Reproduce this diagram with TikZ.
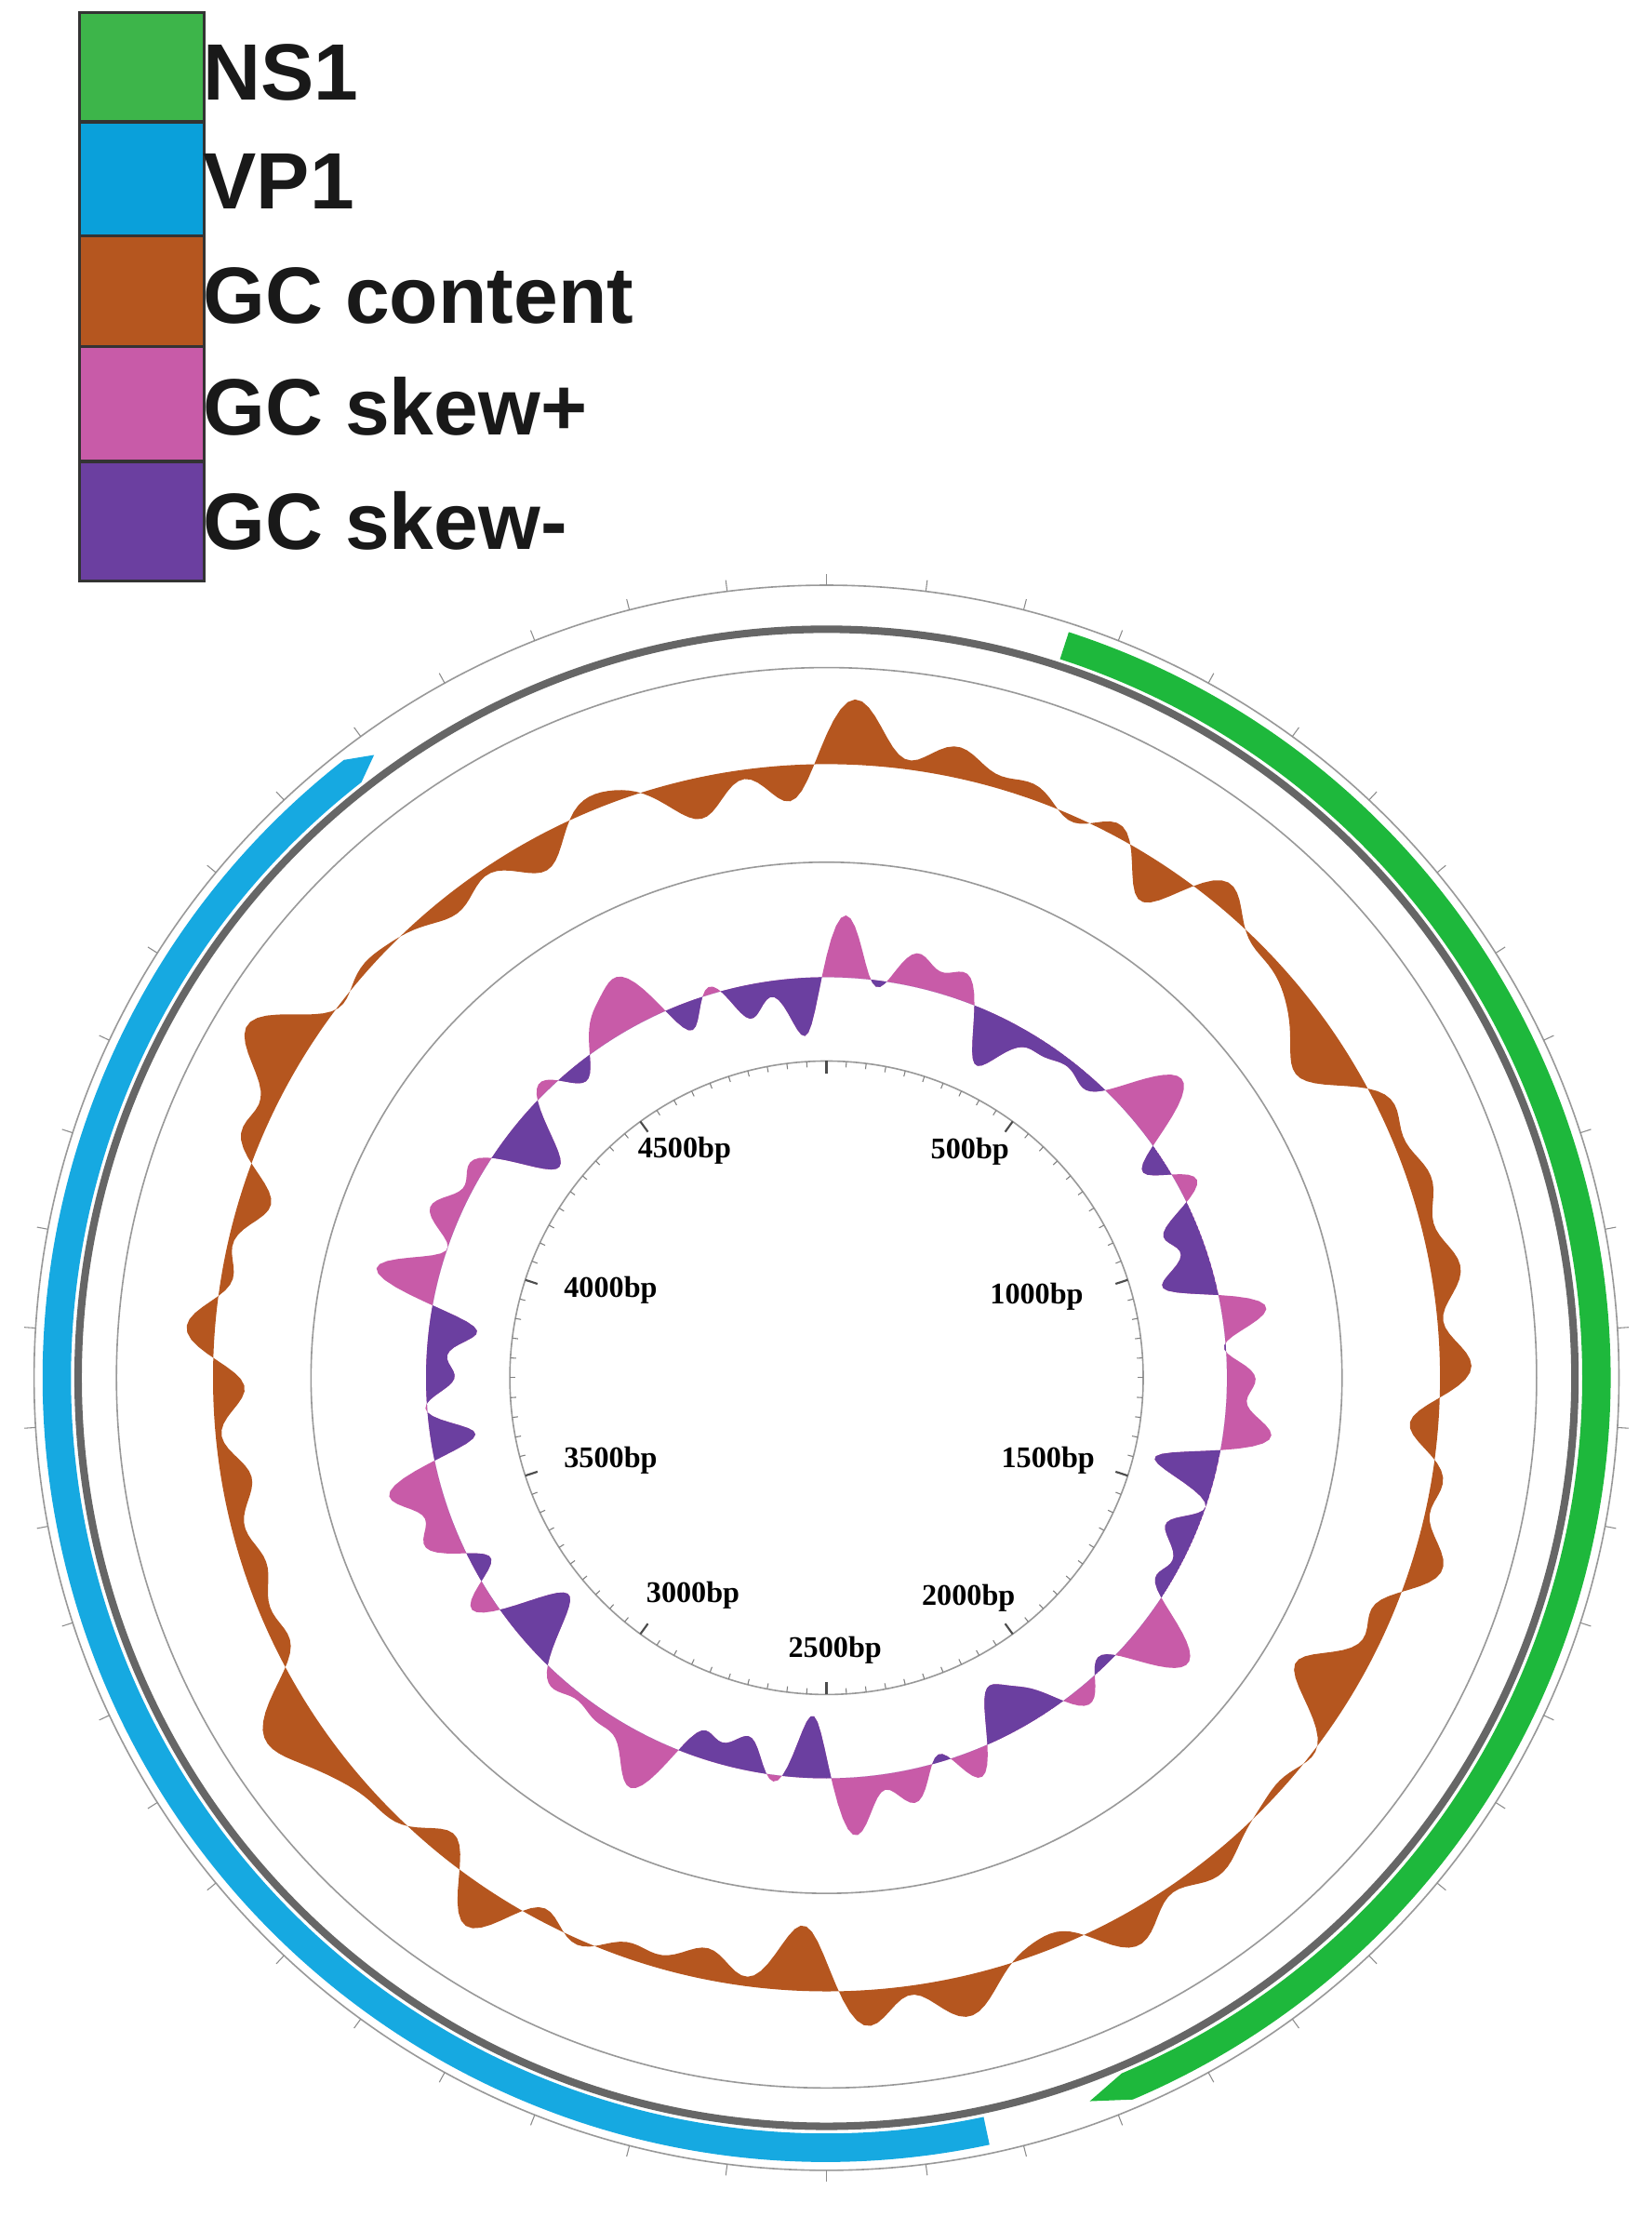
\documentclass[tikz,border=0pt]{standalone}
\usepackage{fontspec}
\setmainfont{Liberation Serif}
\newfontfamily\legfont{Liberation Sans}
\begin{document}
\begin{tikzpicture}[x=0.02cm,y=0.02cm]
\definecolor{cns}{HTML}{3DB54A}\definecolor{cvp}{HTML}{0AA0DA}
\definecolor{cgc}{HTML}{B5561F}\definecolor{csp}{HTML}{C85BA8}
\definecolor{csm}{HTML}{6B3FA0}\definecolor{fns}{HTML}{1EB83C}
\definecolor{fvp}{HTML}{16A9E1}
\tikzset{legbox/.style={draw=black!80,line width=1.2pt,minimum width=50,minimum height=48,inner sep=0},
 legtxt/.style={font=\legfont\bfseries\fontsize{32}{36}\selectfont,anchor=west,text=black!90},
 bp/.style={font=\bfseries\fontsize{12}{14}\selectfont},
 ring/.style={draw=black!40,line width=0.6pt}}
\useasboundingbox (-582,970) rectangle (581,-600);
% legend
\node[legbox,fill=cns] (l1) at (-482,919) {};
\node[legbox,fill=cvp] (l2) at (-482,842) {};
\node[legbox,fill=cgc] (l3) at (-482,762) {};
\node[legbox,fill=csp] (l4) at (-482,684) {};
\node[legbox,fill=csm] (l5) at (-482,603) {};
\node[legtxt] (t1) at (-445,919) {NS1};
\node[legtxt] (t2) at (-445,842) {VP1};
\node[legtxt] (t3) at (-445,762) {GC content};
\node[legtxt] (t4) at (-445,684) {GC skew+};
\node[legtxt] (t5) at (-445,603) {GC skew-};
% rings
\draw[ring] (0,0) circle (558);
\draw[ring] (0,0) circle (500);
\draw[ring] (0,0) circle (363);
\draw[ring] (0,0) circle (223);
\foreach \i in {0,...,49}{\draw[black!45] ({90-\i*7.2}:558) -- ({90-\i*7.2}:{\ifodd\i 562\else 566\fi});}
\draw[black!60,line width=3pt] (0,0) circle (527);
% features
\fill[fns] ({90-18}:552) arc[start angle={90-18},end angle={90-157},radius=552] -- ({90-160}:542) -- ({90-157}:532) arc[start angle={90-157},end angle={90-18},radius=532] -- cycle;
\fill[fvp] ({90-168}:552) arc[start angle={90-168},end angle={90-322},radius=552] -- ({90-324}:542) -- ({90-322}:532) arc[start angle={90-322},end angle={90-168},radius=532] -- cycle;
% GC content
\fill[cgc,even odd rule] plot[domain=0:360,samples=600,variable=\t] ({90-\t}:{432+14*sin(5*\t+30)+12*sin(11*\t)+10*sin(17*\t+60)+8*sin(29*\t+10)+6*sin(41*\t+5)+5*sin(37*\t+40)+4*sin(31*\t)}) -- cycle (0,0) circle (432);
% GC skew
\fill[csp,even odd rule] plot[domain=0:360,samples=600,variable=\t] ({90-\t}:{282+22*sin(9*\t)+16*sin(23*\t+40)+10*sin(37*\t+15)+6*sin(41*\t+20)+5*sin(31*\t)}) -- cycle (0,0) circle (282);
\begin{scope}
\clip (0,0) circle (282);
\fill[csm,even odd rule] plot[domain=0:360,samples=600,variable=\t] ({90-\t}:{282+22*sin(9*\t)+16*sin(23*\t+40)+10*sin(37*\t+15)+6*sin(41*\t+20)+5*sin(31*\t)}) -- cycle (0,0) circle (282);
\end{scope}
% inner ticks
\foreach \i in {0,...,99}{\draw[black!50] ({90-\i*3.6}:223) -- ({90-\i*3.6}:219);}
\foreach \i in {0,...,9}{\draw[black!70,line width=0.8pt] ({90-\i*36}:223) -- ({90-\i*36}:214);}
\node[bp] (b1) at (101,159) {500bp};
\node[bp] (b2) at (148,57) {1000bp};
\node[bp] (b3) at (156,-58) {1500bp};
\node[bp] (b4) at (100,-155) {2000bp};
\node[bp] (b5) at (6,-192) {2500bp};
\node[bp] (b6) at (-94,-153) {3000bp};
\node[bp] (b7) at (-152,-58) {3500bp};
\node[bp] (b8) at (-152,62) {4000bp};
\node[bp] (b9) at (-100,160) {4500bp};
\end{tikzpicture}
\end{document}
